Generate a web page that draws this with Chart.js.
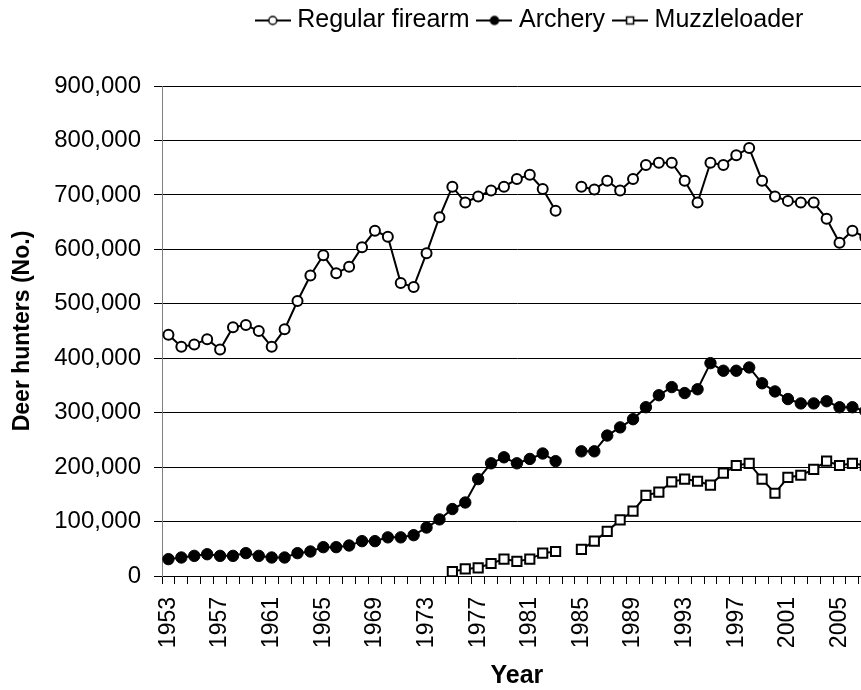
<!DOCTYPE html>
<html>
<head>
<meta charset="utf-8">
<script src="https://cdn.jsdelivr.net/npm/chart.js@4/dist/chart.umd.min.js"></script>
<style>
  html, body { margin: 0; padding: 0; background: #fff; overflow: hidden; }
  #wrap { width: 906px; height: 690px; }
</style>
</head>
<body>
<div id="wrap"><canvas id="grafica" width="906" height="690"></canvas></div>
<script>
const years = [
  "1953", "1954", "1955", "1956", "1957", "1958", "1959", "1960", "1961", "1962",
  "1963", "1964", "1965", "1966", "1967", "1968", "1969", "1970", "1971", "1972",
  "1973", "1974", "1975", "1976", "1977", "1978", "1979", "1980", "1981", "1982",
  "1983", "1984", "1985", "1986", "1987", "1988", "1989", "1990", "1991", "1992",
  "1993", "1994", "1995", "1996", "1997", "1998", "1999", "2000", "2001", "2002",
  "2003", "2004", "2005", "2006", "2007",
];

const regularFirearm = [
  443000, 421000, 425000, 435000, 416000, 457000, 461000, 450000, 421000, 453000,
  505000, 552000, 589000, 556000, 568000, 604000, 634000, 623000, 538000, 531000,
  593000, 659000, 715000, 686000, 697000, 708000, 715000, 729000, 737000, 711000,
  671000, null, 715000, 710000, 726000, 708000, 729000, 755000, 759000, 759000,
  726000, 686000, 759000, 755000, 773000, 786000, 726000, 697000, 689000, 686000,
  686000, 656000, 612000, 634000, 622000,
];

const archery = [
  31000, 34000, 37000, 40000, 37000, 37000, 42000, 37000, 34000, 34000,
  42000, 45000, 53000, 53000, 56000, 64000, 64000, 71000, 71000, 75000,
  89000, 104000, 123000, 135000, 178000, 207000, 218000, 207000, 215000, 225000,
  211000, null, 229000, 229000, 258000, 273000, 288000, 310000, 332000, 347000,
  336000, 343000, 391000, 377000, 377000, 383000, 354000, 339000, 325000, 317000,
  317000, 321000, 310000, 310000, 303000,
];

const muzzleloader = [
  null, null, null, null, null, null, null, null, null, null,
  null, null, null, null, null, null, null, null, null, null,
  null, null, 8000, 13000, 15000, 23000, 31000, 27000, 31000, 42000,
  45000, null, 49000, 64000, 82000, 103000, 119000, 148000, 154000, 173000,
  178000, 174000, 167000, 189000, 203000, 207000, 178000, 152000, 181000, 185000,
  196000, 211000, 203000, 207000, 203000,
];

const shownYears = ["1953", "1957", "1961", "1965", "1969", "1973", "1977", "1981", "1985", "1989", "1993", "1997", "2001", "2005"];
const yTicks = [0, 100000, 200000, 300000, 400000, 500000, 600000, 700000, 800000, 900000];
const seriesNames = ["Regular firearm", "Archery", "Muzzleloader"];

Chart.defaults.font.family = "'Liberation Sans', Arial, sans-serif";
Chart.defaults.color = "#000";

// little line + marker picture for each legend entry
function legendSymbol(kind) {
  const c = document.createElement("canvas");
  c.width = 36;
  c.height = 14;
  const g = c.getContext("2d");
  g.strokeStyle = "#000";
  g.lineWidth = 2;
  g.beginPath();
  g.moveTo(0, 7);
  g.lineTo(36, 7);
  g.stroke();
  g.lineWidth = 1.5;
  g.beginPath();
  if (kind === "rect") {
    g.rect(14.5, 3.5, 7, 7);
  } else {
    g.arc(18, 7, 4, 0, Math.PI * 2);
  }
  g.fillStyle = kind === "fill" ? "#000" : "#fff";
  g.fill();
  g.stroke();
  return c;
}

const symbols = [legendSymbol("circle"), legendSymbol("fill"), legendSymbol("rect")];

const legendBox = {
  id: "legendBox",
  beforeLayout(chart) {
    const legend = chart.legend;
    if (legend && !legend._patched) {
      const fit = legend.fit;
      legend.fit = function () {
        fit.call(this);
        this.height = 86;
      };
      legend._patched = true;
    }
  },
  afterLayout(chart) {
    const legend = chart.legend;
    legend.left += 79;
    legend.right += 79;
    legend.top -= 5;
    legend.bottom -= 5;
  },
};

const ctx = document.getElementById("grafica").getContext("2d");

new Chart(ctx, {
  type: "line",
  data: {
    labels: years,
    datasets: [
      {
        label: seriesNames[0],
        data: regularFirearm,
        borderColor: "#000",
        borderWidth: 2,
        pointStyle: "circle",
        pointRadius: 5,
        pointBorderWidth: 2,
        pointBackgroundColor: "#fff",
        pointBorderColor: "#000",
      },
      {
        label: seriesNames[1],
        data: archery,
        borderColor: "#000",
        borderWidth: 2,
        pointStyle: "circle",
        pointRadius: 5.7,
        pointBorderWidth: 1,
        pointBackgroundColor: "#000",
        pointBorderColor: "#000",
      },
      {
        label: seriesNames[2],
        data: muzzleloader,
        borderColor: "#000",
        borderWidth: 2,
        pointStyle: "rect",
        pointRadius: 6.5,
        pointBorderWidth: 2,
        pointBackgroundColor: "#fff",
        pointBorderColor: "#000",
      },
    ],
  },
  options: {
    responsive: false,
    animation: false,
    layout: { padding: 0 },
    plugins: {
      tooltip: { enabled: false },
      legend: {
        position: "top",
        labels: {
          usePointStyle: true,
          pointStyleWidth: 24,
          padding: 13,
          font: { size: 25 },
          generateLabels: (chart) =>
            chart.data.datasets.map((ds, i) => ({
              text: ds.label,
              pointStyle: symbols[i],
              datasetIndex: i,
              fillStyle: "#fff",
              strokeStyle: "#000",
              lineWidth: 0,
              fontColor: "#000",
            })),
        },
      },
    },
    scales: {
      x: {
        type: "category",
        offset: true,
        afterFit: (scale) => {
          scale.height = 114;
        },
        grid: {
          offset: true,
          drawOnChartArea: false,
          drawTicks: true,
          tickLength: 8,
          color: "#000",
        },
        border: { color: "#000", width: 1 },
        ticks: {
          autoSkip: false,
          minRotation: 90,
          maxRotation: 90,
          padding: 13,
          font: { size: 23 },
          callback: (value, index) => (shownYears.includes(years[index]) ? years[index] : ""),
        },
        title: {
          display: true,
          text: "Year",
          font: { size: 25, weight: "bold", lineHeight: 1 },
          padding: { top: 0, bottom: 1 },
        },
      },
      y: {
        min: 0,
        max: 900000,
        afterFit: (scale) => {
          scale.width = 162;
        },
        afterBuildTicks: (scale) => {
          scale.ticks = yTicks.map((v) => ({ value: v }));
        },
        grid: {
          color: "#000",
          tickLength: 8,
        },
        border: { color: "#808080", width: 1 },
        ticks: {
          padding: 13,
          font: { size: 24 },
          callback: (value) => value.toLocaleString("en-US"),
        },
        title: {
          display: true,
          text: "Deer hunters (No.)",
          font: { size: 23, weight: "bold" },
          padding: { top: 9, bottom: 0 },
        },
      },
    },
  },
  plugins: [legendBox],
});
</script>
</body>
</html>
